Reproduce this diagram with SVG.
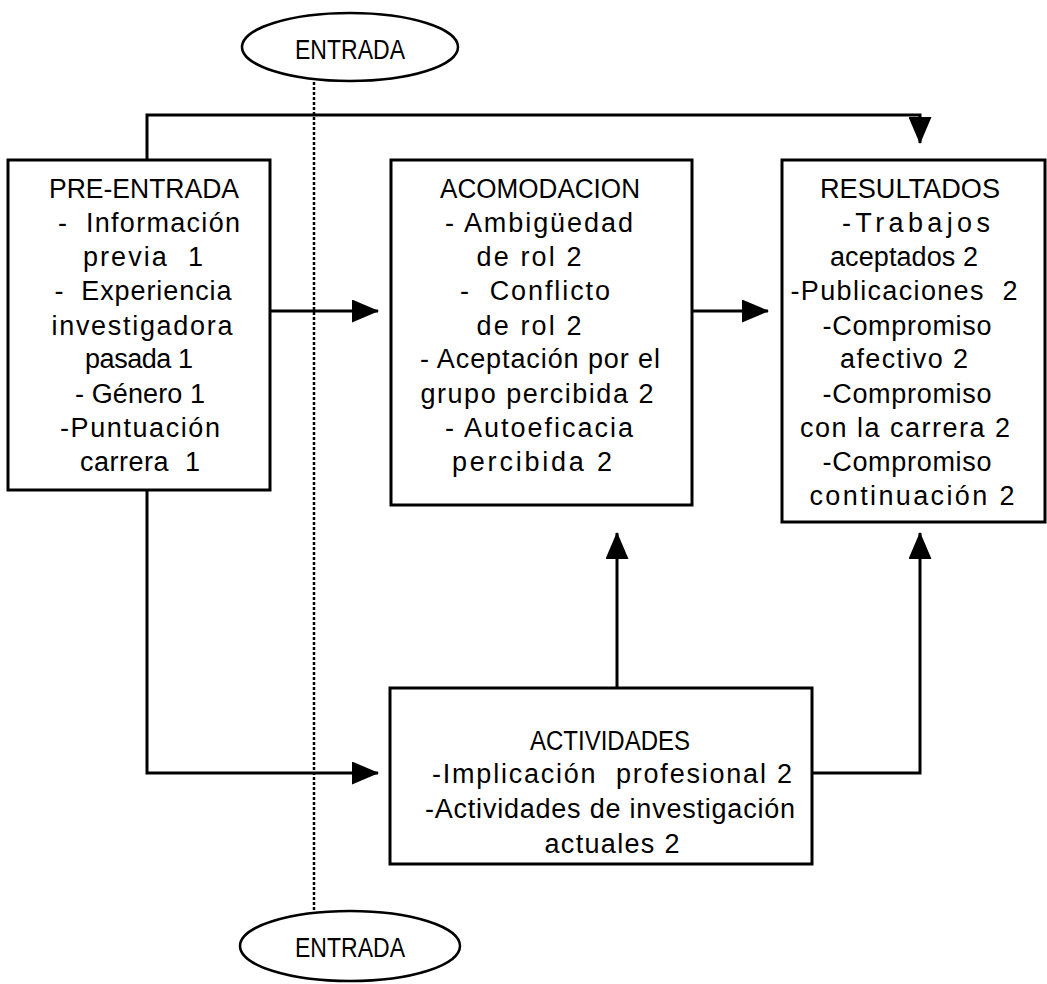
<svg xmlns="http://www.w3.org/2000/svg" width="1047" height="984" viewBox="0 0 1047 984">
<style>
.box{fill:#fff;stroke:#000;stroke-width:3}
.ell{fill:#fff;stroke:#000;stroke-width:2.5}
.t{font-family:"Liberation Sans",Arial,sans-serif;font-size:27px;fill:#000;text-anchor:middle}
.h{font-size:27px}
.c{fill:none;stroke:#000;stroke-width:3}
.d{fill:none;stroke:#000;stroke-width:2.5;stroke-dasharray:3 2}
</style>
<defs>
<marker id="ah" markerUnits="userSpaceOnUse" markerWidth="27" markerHeight="23" refX="26" refY="11.5" orient="auto" viewBox="0 0 27 23">
<path d="M0,0 L27,11.5 L0,23 z" fill="#000"/>
</marker>
</defs>
<rect width="1047" height="984" fill="#fff"/>
<g id="connectors">
<line class="d" x1="314" y1="82" x2="314" y2="911"/>
<path class="c" d="M147,160 V115 H920 V143" marker-end="url(#ah)"/>
<path class="c" d="M270,311 H378" marker-end="url(#ah)"/>
<path class="c" d="M692,311 H768" marker-end="url(#ah)"/>
<path class="c" d="M147,490 V773 H378" marker-end="url(#ah)"/>
<path class="c" d="M617,688 V533" marker-end="url(#ah)"/>
<path class="c" d="M812,773 H920 V533" marker-end="url(#ah)"/>
</g>
<g id="entrada-top">
<ellipse class="ell" cx="350" cy="47" rx="108" ry="34"/>
<text class="t h" x="350" y="59" textLength="110" lengthAdjust="spacingAndGlyphs">ENTRADA</text>
</g>
<g id="pre-entrada">
<rect class="box" x="8" y="160" width="262" height="330"/>
<text class="t h" x="144" y="198" textLength="190" lengthAdjust="spacingAndGlyphs">PRE-ENTRADA</text>
<text class="t" x="149" y="232" textLength="182" xml:space="preserve">-  Información</text>
<text class="t" x="143" y="266" textLength="120" xml:space="preserve">previa  1</text>
<text class="t" x="143" y="300" textLength="177" xml:space="preserve">-  Experiencia</text>
<text class="t" x="142" y="335" textLength="181">investigadora</text>
<text class="t" x="139" y="368" textLength="108">pasada 1</text>
<text class="t" x="140" y="403" textLength="130">- Género 1</text>
<text class="t" x="140" y="437" textLength="160">-Puntuación</text>
<text class="t" x="140" y="471" textLength="120" xml:space="preserve">carrera  1</text>
</g>
<g id="acomodacion">
<rect class="box" x="391" y="160" width="301" height="345"/>
<text class="t h" x="540" y="198" textLength="200" lengthAdjust="spacingAndGlyphs">ACOMODACION</text>
<text class="t" x="539" y="232" textLength="188">- Ambigüedad</text>
<text class="t" x="529" y="266" textLength="105">de rol 2</text>
<text class="t" x="535" y="300" textLength="150" xml:space="preserve">-  Conflicto</text>
<text class="t" x="529" y="335" textLength="105">de rol 2</text>
<text class="t" x="540" y="368" textLength="240">- Aceptación por el</text>
<text class="t" x="537" y="403" textLength="233">grupo percibida 2</text>
<text class="t" x="539" y="437" textLength="188">- Autoeficacia</text>
<text class="t" x="532" y="471" textLength="160">percibida 2</text>
</g>
<g id="resultados">
<rect class="box" x="782" y="160" width="263" height="362"/>
<text class="t h" x="910" y="198" textLength="180" lengthAdjust="spacingAndGlyphs">RESULTADOS</text>
<text class="t" x="916" y="232" textLength="148">-Trabajos</text>
<text class="t" x="904" y="266" textLength="148">aceptados 2</text>
<text class="t" x="904" y="300" textLength="227" xml:space="preserve">-Publicaciones  2</text>
<text class="t" x="907" y="335" textLength="169">-Compromiso</text>
<text class="t" x="904" y="368" textLength="128">afectivo 2</text>
<text class="t" x="907" y="403" textLength="169">-Compromiso</text>
<text class="t" x="905" y="437" textLength="210">con la carrera 2</text>
<text class="t" x="907" y="471" textLength="169">-Compromiso</text>
<text class="t" x="912" y="505" textLength="205">continuación 2</text>
</g>
<g id="actividades">
<rect class="box" x="390" y="688" width="422" height="176"/>
<text class="t h" x="610" y="750" textLength="160" lengthAdjust="spacingAndGlyphs">ACTIVIDADES</text>
<text class="t" x="612" y="783" textLength="360" xml:space="preserve">-Implicación  profesional 2</text>
<text class="t" x="610" y="818" textLength="370">-Actividades de investigación</text>
<text class="t" x="612" y="853" textLength="135">actuales 2</text>
</g>
<g id="entrada-bottom">
<ellipse class="ell" cx="350" cy="946" rx="110" ry="35"/>
<text class="t h" x="350" y="957" textLength="110" lengthAdjust="spacingAndGlyphs">ENTRADA</text>
</g>
</svg>
